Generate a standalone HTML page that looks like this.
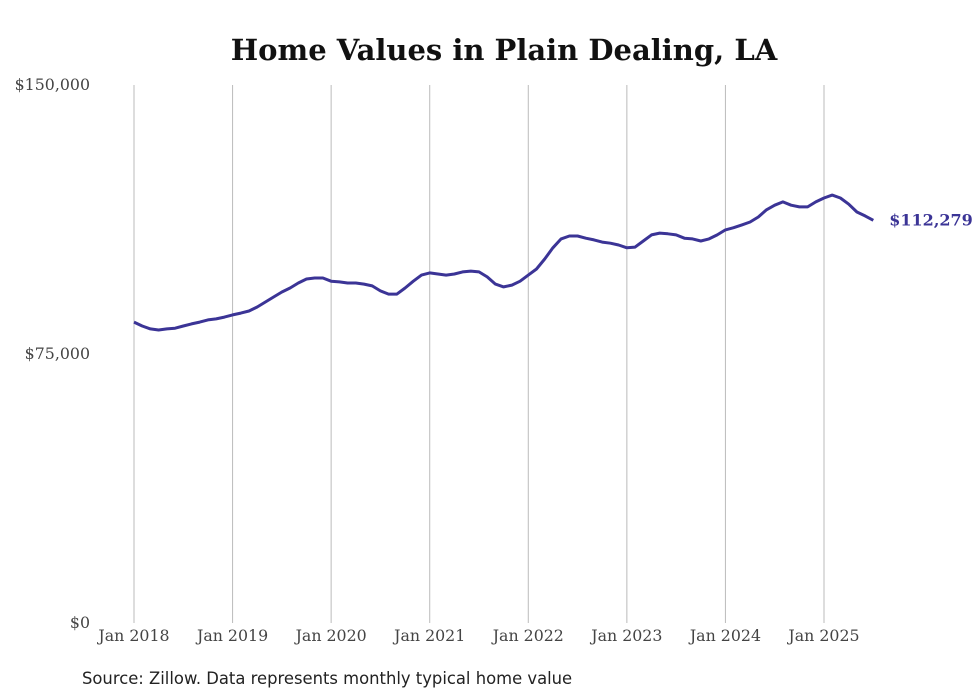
<!DOCTYPE html>
<html><head><meta charset="utf-8"><style>
body{margin:0;background:#fff;width:980px;height:699px;overflow:hidden}
svg{display:block}
</style></head><body>
<svg id="c" width="980" height="699">
<text x="504" y="60" text-anchor="middle" font-family="DejaVu Serif, serif" font-weight="bold" font-size="29" fill="#111">Home Values in Plain Dealing, LA</text>
<text x="82" y="684" font-family="DejaVu Sans, sans-serif" font-size="16.4" fill="#222">Source: Zillow. Data represents monthly typical home value</text>
</svg>
<script>
const years=["Jan 2018","Jan 2019","Jan 2020","Jan 2021","Jan 2022","Jan 2023","Jan 2024","Jan 2025"];
const yTicks=[0,75000,150000];
const yTickLabels=["$0","$75,000","$150,000"];
const values=[83.9,82.8,82.0,81.7,82.0,82.2,82.8,83.4,83.9,84.5,84.8,85.3,
85.9,86.4,87.0,88.1,89.5,90.9,92.3,93.4,94.8,95.9,96.2,96.2,
95.3,95.1,94.8,94.8,94.5,94.0,92.6,91.7,91.7,93.4,95.3,97.0,
97.6,97.3,97.0,97.3,97.9,98.1,97.9,96.5,94.5,93.7,94.2,95.3,
97.0,98.7,101.5,104.6,107.1,107.9,107.9,107.3,106.8,106.2,105.9,105.4,
104.6,104.8,106.5,108.2,108.7,108.5,108.2,107.3,107.1,106.5,107.1,108.2,
109.6,110.2,111.0,111.8,113.2,115.2,116.5,117.4,116.5,116.0,116.0,117.4,
118.5,119.3,118.5,116.8,114.6,113.5,112.279].map(v=>v*1000);
const lastLabel="$112,279";
const svg=document.getElementById('c');
const NS="http://www.w3.org/2000/svg";
const x=m=>134+m*(690/84);
const y=v=>623-v/150000*538;
function mk(t,a){const e=document.createElementNS(NS,t);for(const k in a)e.setAttribute(k,a[k]);svg.appendChild(e);return e;}
years.forEach((lab,i)=>{
 const g=mk('line',{x1:x(i*12),x2:x(i*12),y1:85,y2:623,stroke:'#bbb','stroke-width':1});
 
 
 const t=mk('text',{x:x(i*12),y:641,'text-anchor':'middle','font-family':'DejaVu Serif, serif','font-size':15.8,fill:'#444'});
 t.textContent=lab;
 
 
});
yTicks.forEach((v,i)=>{
 const t=mk('text',{x:90,y:y(v)+5,'text-anchor':'end','font-family':'DejaVu Serif, serif','font-size':15.8,fill:'#444'});
 t.textContent=yTickLabels[i];
 
 
});
const p=mk('path',{d:values.map((v,i)=>(i?'L':'M')+x(i).toFixed(1)+' '+y(v).toFixed(1)).join(''),fill:'none',stroke:'#3b3496','stroke-width':3,'stroke-linejoin':'round'});


const li=values.length-1;
const lt=mk('text',{x:x(li)+16,y:y(values[li])+5,'font-family':'DejaVu Serif, serif','font-weight':'bold','font-size':16,fill:'#3b3496'});
lt.textContent=lastLabel;


</script>
</body></html>
